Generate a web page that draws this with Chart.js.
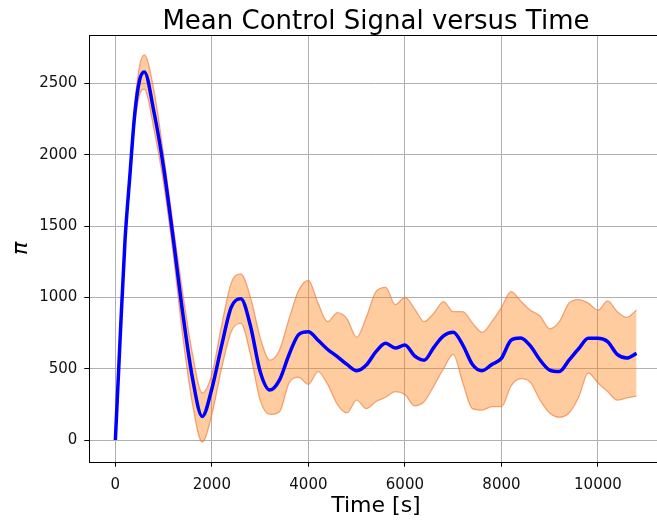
<!DOCTYPE html>
<html>
<head>
<meta charset="utf-8">
<script src="https://cdn.jsdelivr.net/npm/chart.js@4.4.1/dist/chart.umd.min.js"></script>
<style>
  html, body { margin: 0; padding: 0; background: #fff; overflow: hidden; }
  #wrap { width: 670px; height: 522px; }
</style>
</head>
<body>
<div id="wrap"><canvas id="meanChart" width="670" height="522"></canvas></div>
<script>
// time grid [s]
const A_time = [0, 100, 200, 300, 400, 500, 600, 800, 1000, 1200, 1400, 1600, 1800,
    2000, 2200, 2400, 2600, 2800, 3000, 3200, 3400, 3600, 3800, 4000, 4200, 4400,
    4600, 4800, 5000, 5200, 5400, 5600, 5800, 6000, 6200, 6400, 6600, 6800, 7000,
    7200, 7400, 7600, 7800, 8000, 8200, 8400, 8600, 8800, 9000, 9200, 9400, 9600,
    9800, 10000, 10200, 10400, 10600, 10800];

// mean control signal
const A_mean = [0, 720, 1400, 1850, 2280, 2520, 2580, 2300, 1910, 1410, 880, 430, 165,
    360, 660, 930, 990, 800, 480, 350, 420, 600, 740, 760, 700, 635,
    585, 530, 486, 526, 620, 678, 645, 666, 590, 560, 650, 730, 755,
    666, 530, 486, 530, 573, 700, 715, 660, 561, 490, 480, 560, 640,
    713, 713, 690, 600, 575, 608];

// upper edge of the band
const A_upper = [0, 740, 1430, 1900, 2350, 2620, 2700, 2450, 2000, 1500, 1020, 600, 330,
    460, 800, 1100, 1165, 1000, 720, 560, 630, 850, 1050, 1120, 960, 830,
    893, 850, 720, 860, 1040, 1070, 950, 1000, 920, 830, 890, 970, 900,
    900, 820, 755, 830, 930, 1040, 975, 910, 870, 780, 830, 960, 985,
    960, 910, 975, 900, 860, 912];

// lower edge of the band
const A_lower = [0, 700, 1370, 1800, 2210, 2420, 2460, 2180, 1800, 1300, 720, 250, -15,
    180, 500, 760, 818, 600, 280, 180, 199, 400, 440, 390, 480, 390,
    250, 190, 280, 220, 270, 300, 340, 320, 240, 270, 380, 500, 600,
    400, 220, 210, 234, 234, 380, 430, 405, 280, 190, 160, 190, 300,
    470, 400, 340, 280, 295, 308];

const A_xTicks = [0, 2000, 4000, 6000, 8000, 10000];
const A_yTicks = [0, 500, 1000, 1500, 2000, 2500];

const S_title = "Mean Control Signal versus Time";

function toPoints(A_values) {
    return A_time.map((t, i) => ({x: t, y: A_values[i]}));
}

const S_font = "'DejaVu Sans', sans-serif";

// frame around the plot area (matplotlib spines) and the title centred over it
const framePlugin = {
    id: "frame",
    afterDraw(chart) {
        const ctx = chart.ctx;
        const a = chart.chartArea;
        ctx.save();
        ctx.strokeStyle = "#000";
        ctx.lineWidth = 1;
        ctx.strokeRect(Math.round(a.left) + 0.5, Math.round(a.top) + 0.5,
            Math.round(a.right - a.left), Math.round(a.bottom - a.top));
        ctx.fillStyle = "#000";
        ctx.font = "26px " + S_font;
        ctx.textAlign = "center";
        ctx.textBaseline = "alphabetic";
        ctx.fillText(S_title, (a.left + a.right) / 2, 29);
        ctx.restore();
    }
};

new Chart("meanChart", {
    type: "line",
    data: {
        datasets: [{
            label: "mean",
            data: toPoints(A_mean),
            borderColor: "#0000ff",
            borderWidth: 3.5,
            pointRadius: 0,
            fill: false,
            cubicInterpolationMode: "monotone",
            order: 0
        }, {
            label: "upper",
            data: toPoints(A_upper),
            borderColor: "rgba(232,125,70,0.65)",
            borderWidth: 1.3,
            backgroundColor: "rgba(255,127,14,0.4)",
            pointRadius: 0,
            fill: "+1",
            cubicInterpolationMode: "monotone",
            order: 1
        }, {
            label: "lower",
            data: toPoints(A_lower),
            borderColor: "rgba(232,125,70,0.65)",
            borderWidth: 1.3,
            pointRadius: 0,
            fill: false,
            cubicInterpolationMode: "monotone",
            order: 2
        }]
    },
    options: {
        responsive: false,
        animation: false,
        layout: { padding: { left: 0, right: 7.4, top: 35, bottom: 0 } },
        plugins: {
            legend: { display: false },
            tooltip: { enabled: false },
            title: { display: false }
        },
        scales: {
            x: {
                type: "linear",
                min: -540,
                max: 11340,
                afterBuildTicks: (axis) => { axis.ticks = A_xTicks.map(v => ({value: v})); },
                afterFit: (axis) => { axis.height = 60.3; },
                grid: { color: "#b0b0b0", lineWidth: 1, tickLength: 5, tickColor: "#000" },
                border: { display: false },
                ticks: {
                    color: "#111",
                    font: { family: S_font, size: 15 },
                    padding: 9,
                    maxRotation: 0,
                    callback: (v) => String(v)
                },
                title: {
                    display: true,
                    text: "Time [s]",
                    color: "#000",
                    font: { family: S_font, size: 22, lineHeight: 1.2 },
                    padding: { top: 0, bottom: 3 }
                }
            },
            y: {
                type: "linear",
                min: -152,
                max: 2840,
                afterBuildTicks: (axis) => { axis.ticks = A_yTicks.map(v => ({value: v})); },
                afterFit: (axis) => { axis.width = 89.3; },
                grid: { color: "#b0b0b0", lineWidth: 1, tickLength: 5, tickColor: "#000" },
                border: { display: false },
                ticks: {
                    color: "#111",
                    font: { family: S_font, size: 15 },
                    padding: 7,
                    callback: (v) => String(v)
                },
                title: {
                    display: true,
                    text: "π",
                    color: "#000",
                    font: { family: S_font, size: 22, style: "italic", lineHeight: 1.2 },
                    padding: { top: 8, bottom: 0 }
                }
            }
        }
    },
    plugins: [framePlugin]
});
</script>
</body>
</html>
